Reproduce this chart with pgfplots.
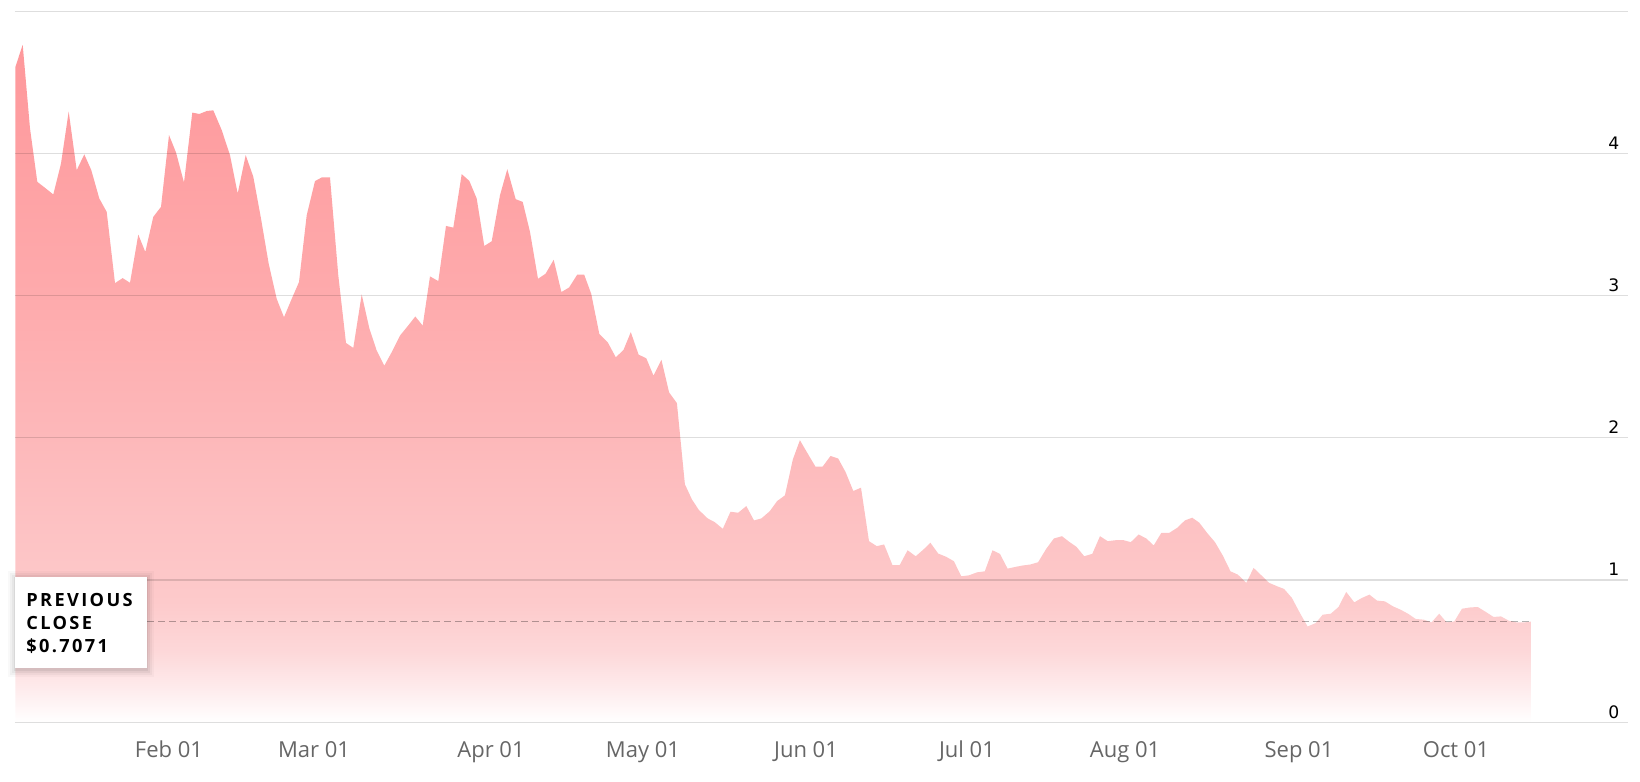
\documentclass[border=0pt]{standalone}
\usepackage{pgfplots}
\pgfplotsset{compat=1.18}
\usepackage{pgfplotstable}
\usepackage{fontspec}
\setmainfont{Open Sans}
\newfontfamily\yfont{DejaVu Sans}
\newfontfamily\boxfont[LetterSpace=13]{Open Sans}
\definecolor{xlab}{RGB}{102,102,102}
\pgfdeclareverticalshading{areashade}{100bp}{rgb(0bp)=(1,1,1); rgb(25bp)=(1,1,1); rgb(27.4bp)=(0.996,0.925,0.929); rgb(30.2bp)=(0.992,0.847,0.851); rgb(33.9bp)=(0.992,0.792,0.796); rgb(46bp)=(0.992,0.722,0.729); rgb(56.5bp)=(0.996,0.667,0.675); rgb(75bp)=(0.996,0.596,0.608); rgb(100bp)=(0.996,0.596,0.608)}

\pgfplotstableread{
x y
15.3 4.606
22.7 4.764
30.0 4.176
37.3 3.800
45.0 3.758
53.3 3.711
61.0 3.929
68.7 4.294
76.7 3.882
84.3 3.993
91.3 3.882
99.3 3.683
106.7 3.589
115.0 3.088
122.7 3.123
130.0 3.090
138.3 3.429
145.3 3.307
153.3 3.554
161.0 3.624
169.0 4.129
176.0 4.007
184.0 3.795
192.3 4.287
199.3 4.277
206.7 4.298
213.3 4.303
221.7 4.164
230.0 3.988
237.7 3.718
245.7 3.988
253.3 3.836
261.0 3.542
268.7 3.224
276.7 2.977
284.0 2.848
291.7 2.977
299.0 3.095
306.7 3.565
315.0 3.805
321.7 3.831
330.0 3.831
338.3 3.142
346.0 2.667
353.3 2.632
361.7 3.008
369.3 2.771
376.7 2.613
384.3 2.507
391.7 2.602
400.0 2.719
407.7 2.785
415.3 2.853
422.7 2.789
430.0 3.135
438.3 3.102
446.0 3.490
453.3 3.478
461.7 3.854
469.3 3.807
476.7 3.683
484.3 3.349
491.7 3.382
500.0 3.706
507.3 3.889
515.7 3.678
522.7 3.659
530.0 3.448
538.0 3.118
545.6 3.154
553.7 3.252
561.4 3.025
569.1 3.057
577.2 3.147
584.2 3.147
591.2 3.013
599.3 2.731
607.7 2.672
615.8 2.566
623.5 2.618
630.8 2.743
638.6 2.585
646.3 2.559
653.5 2.437
661.4 2.549
669.1 2.319
676.9 2.244
684.9 1.673
691.9 1.567
698.9 1.492
707.7 1.433
714.7 1.407
722.8 1.360
730.5 1.480
738.2 1.473
746.3 1.520
754.0 1.419
761.4 1.433
769.8 1.484
777.1 1.555
784.9 1.595
792.9 1.849
799.9 1.983
807.7 1.889
815.4 1.798
822.7 1.798
830.5 1.872
838.2 1.854
845.5 1.760
853.3 1.626
861.0 1.649
869.0 1.273
876.8 1.238
884.1 1.250
892.5 1.104
899.6 1.104
907.6 1.209
915.7 1.167
923.4 1.214
930.4 1.262
938.2 1.186
946.2 1.163
953.9 1.132
961.3 1.026
969.0 1.033
977.1 1.054
984.8 1.061
992.5 1.209
999.9 1.184
1007.6 1.080
1015.3 1.092
1022.7 1.102
1030.4 1.109
1038.1 1.125
1046.2 1.219
1053.9 1.292
1062.0 1.308
1069.1 1.269
1076.5 1.233
1084.2 1.167
1092.3 1.184
1100.0 1.308
1107.7 1.273
1115.8 1.280
1123.5 1.280
1130.8 1.266
1138.6 1.320
1146.3 1.292
1153.7 1.243
1161.4 1.332
1169.4 1.332
1177.2 1.367
1184.9 1.419
1192.2 1.438
1199.3 1.403
1207.0 1.332
1215.0 1.266
1222.8 1.172
1230.5 1.061
1237.8 1.038
1246.3 0.980
1253.6 1.085
1261.3 1.033
1269.1 0.980
1277.1 0.956
1284.1 0.937
1291.9 0.874
1299.9 0.768
1307.6 0.673
1315.7 0.697
1322.7 0.756
1330.8 0.763
1338.5 0.810
1346.2 0.916
1354.3 0.843
1362.0 0.874
1369.4 0.897
1377.1 0.855
1384.8 0.850
1392.9 0.815
1400.6 0.791
1408.0 0.763
1415.7 0.726
1423.8 0.721
1431.5 0.702
1439.2 0.763
1446.6 0.702
1454.3 0.709
1462.0 0.798
1470.1 0.807
1477.8 0.810
1485.9 0.775
1493.6 0.740
1501.0 0.744
1508.7 0.714
1516.4 0.702
1524.4 0.702
1530.8 0.7071
}\pricedata

\begin{document}
\begin{tikzpicture}
\useasboundingbox (-7.5pt,-29.9pt) rectangle (812.5pt,361.1pt);
\begin{axis}[
  at={(0pt,0pt)}, anchor=south west,
  x=0.5pt, y=71.1pt,
  xmin=15, xmax=1628, ymin=0, ymax=5,
  axis line style={draw=none},
  major tick length=0pt,
  ytick={0,1,2,3,4,5},
  yticklabels={0,1,2,3,4,{}},
  ymajorgrids,
  grid style={line width=0.65pt, black, opacity=0.13},
  axis on top,
  yticklabel pos=right,
  yticklabel style={font=\yfont\fontsize{8.6}{10}\selectfont, text=black, anchor=base east, inner sep=0pt, xshift=-4.2pt, yshift=2pt},
  xtick={169,314,491,643,806,967,1125,1299,1456},
  xticklabels={Feb 01,Mar 01,Apr 01,May 01,Jun 01,Jul 01,Aug 01,Sep 01,Oct 01},
  xticklabel style={font=\fontsize{11}{13}\selectfont, text=xlab, anchor=base, inner sep=0pt, yshift=-17.6pt},
]
\addplot[draw=none, shading=areashade] table[x=x,y=y] {\pricedata} \closedcycle;
\addplot[black, opacity=0.3, line width=0.6pt, dash pattern=on 3.3pt off 2.2pt] coordinates {(15,0.7071) (1530.8,0.7071)};
\end{axis}
\foreach \s/\o in {3.5pt/0.025, 2.5pt/0.035, 1.5pt/0.045, 0.7pt/0.06} {
  \fill[black, opacity=\o] (0pt-\s, 26.95pt-\s-0.8pt) rectangle (65.85pt+\s, 72.75pt+\s-0.8pt);
}
\fill[white] (0pt,26.95pt) rectangle (65.85pt,72.75pt);
\node[anchor=base west, inner sep=0pt] at (5.5pt,57.75pt) {\boxfont\bfseries\fontsize{9.1}{11}\selectfont PREVIOUS};
\node[anchor=base west, inner sep=0pt] at (5.5pt,46.1pt) {\boxfont\bfseries\fontsize{9.1}{11}\selectfont CLOSE};
\node[anchor=base west, inner sep=0pt] at (5.5pt,34.75pt) {\boxfont\bfseries\fontsize{9.1}{11}\selectfont \$0.7071};
\end{tikzpicture}
\end{document}
